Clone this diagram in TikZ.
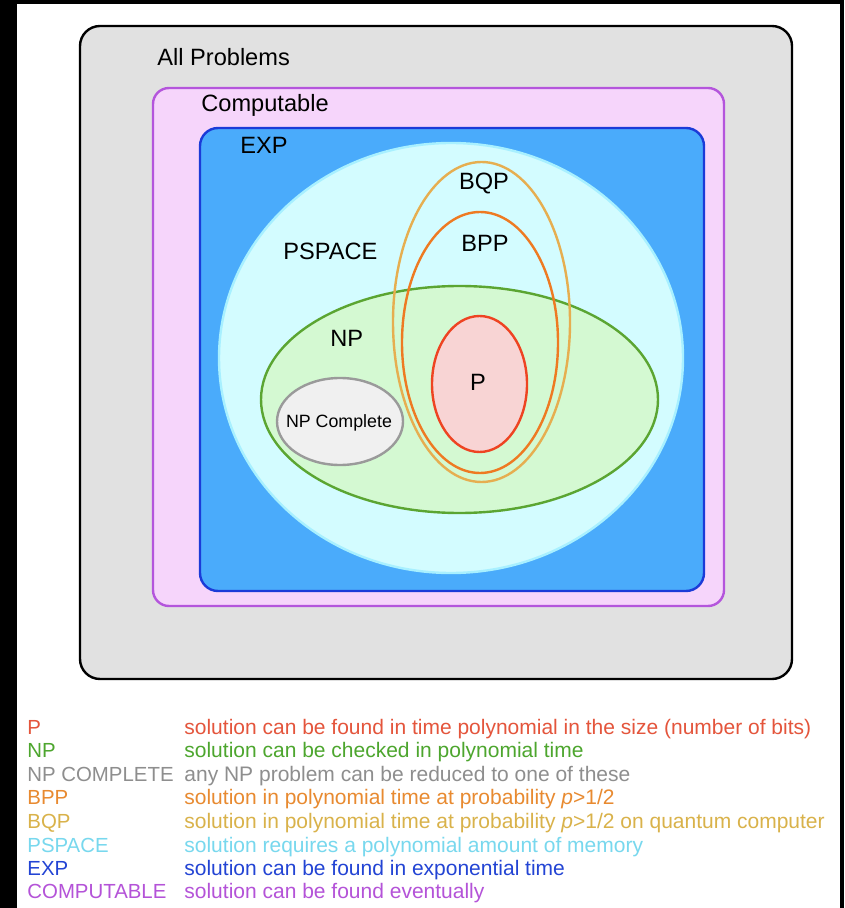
\documentclass[tikz,border=0pt]{standalone}
\usepackage{fontspec}
\setmainfont{Liberation Sans}
\usepackage{xcolor}
\definecolor{AllFill}{HTML}{E1E1E1}
\definecolor{CompFill}{HTML}{F6D5FB}
\definecolor{CompLine}{HTML}{B455DC}
\definecolor{ExpFill}{HTML}{4AABFB}
\definecolor{ExpLine}{HTML}{1B3BD8}
\definecolor{PspFill}{HTML}{D3FCFF}
\definecolor{PspLine}{HTML}{A8F0FF}
\definecolor{NpFill}{HTML}{D4F9D2}
\definecolor{NpLine}{HTML}{5BA532}
\definecolor{NpcFill}{HTML}{F0F0F0}
\definecolor{NpcLine}{HTML}{9A9A9A}
\definecolor{BqpLine}{HTML}{E6AE50}
\definecolor{BppLine}{HTML}{EE7A22}
\definecolor{PFill}{HTML}{F8D4D4}
\definecolor{PLine}{HTML}{EE4422}
% legend colours
\definecolor{KeyP}{HTML}{E4553C}
\definecolor{KeyNP}{HTML}{4DA62E}
\definecolor{KeyNPC}{HTML}{8E8E8E}
\definecolor{KeyBPP}{HTML}{E88A30}
\definecolor{KeyBQP}{HTML}{D9B24A}
\definecolor{KeyPSP}{HTML}{78D8EE}
\definecolor{KeyEXP}{HTML}{2344D4}
\definecolor{KeyComp}{HTML}{B453D8}
\usepackage{tikz}
\usetikzlibrary{shapes.geometric}

\begin{document}
\begin{tikzpicture}[
  x=0.5pt, y=-0.5pt,
  region/.style={rounded corners=10pt, line width=1.2pt},
  set/.style={ellipse, inner sep=0pt, line width=1.2pt},
  lbl/.style={anchor=base, inner sep=0pt, font=\fontsize{11.8}{14}\selectfont},
  key/.style={anchor=base west, inner sep=0pt, font=\fontsize{10.2}{12}\selectfont},
  desc/.style={key, font=\fontsize{10.5}{12}\selectfont},
]
% frame
\fill[black] (0,0) rectangle (844,908);
\fill[white] (17,4) rectangle (840,908);

% nested boxes
\draw[region, fill=AllFill, draw=black] (80,26) rectangle (792,679);
\draw[region, fill=CompFill, draw=CompLine, rounded corners=8pt] (153,88) rectangle (724,606);
\draw[region, fill=ExpFill, draw=ExpLine, rounded corners=9pt] (200,128) rectangle (704,591);

% the sets
\node[set, fill=PspFill, draw=PspLine, minimum width=232pt, minimum height=215pt] (pspace) at (451,358) {};
\node[set, fill=NpFill, draw=NpLine, minimum width=198.5pt, minimum height=113.5pt] (np) at (459.5,399.5) {};
\node[set, fill=NpcFill, draw=NpcLine, minimum width=63pt, minimum height=43.5pt] (npc) at (340,421.5) {};
\node[set, fill=PFill, draw=PLine, minimum width=47.5pt, minimum height=68pt] (p) at (479.5,384) {};
\node[set, draw=BppLine, minimum width=78pt, minimum height=130.5pt] (bpp) at (480,342.5) {};
\node[set, draw=BqpLine, minimum width=88.5pt, minimum height=160pt] (bqp) at (481.5,322) {};

% set labels
\node[lbl, anchor=base west] (allname) at (157,66) {All Problems};
\node[lbl, anchor=base west] (compname) at (201,112) {Computable};
\node[lbl, anchor=base west] (expname) at (240,154) {EXP};
\node[lbl, anchor=base west] (pspname) at (283,260) {PSPACE};
\node[lbl] (bqpname) at (484,190) {BQP};
\node[lbl] (bppname) at (485,252) {BPP};
\node[lbl, anchor=base west] (npname) at (330,347) {NP};
\node[lbl] (pname) at (478,390) {P};
\node[lbl, font=\fontsize{8.9}{10}\selectfont] (npcname) at (339,427) {NP Complete};

% legend
\node[key, text=KeyP] (keyp) at (27,734) {P};
\node[desc, text=KeyP] (descp) at (184,734) {solution can be found in time polynomial in the size (number of bits)};
\node[key, text=KeyNP] (keynp) at (27,757) {NP};
\node[desc, text=KeyNP] (descnp) at (184,757) {solution can be checked in polynomial time};
\node[key, text=KeyNPC] (keynpc) at (27,781) {NP COMPLETE};
\node[desc, text=KeyNPC] (descnpc) at (184,781) {any NP problem can be reduced to one of these};
\node[key, text=KeyBPP] (keybpp) at (27,804) {BPP};
\node[desc, text=KeyBPP] (descbpp) at (184,804) {solution in polynomial time at probability \textit{p}>1/2};
\node[key, text=KeyBQP] (keybqp) at (27,828) {BQP};
\node[desc, text=KeyBQP] (descbqp) at (184,828) {solution in polynomial time at probability \textit{p}>1/2 on quantum computer};
\node[key, text=KeyPSP] (keypsp) at (27,852) {PSPACE};
\node[desc, text=KeyPSP] (descpsp) at (184,852) {solution requires a polynomial amount of memory};
\node[key, text=KeyEXP] (keyexp) at (27,875) {EXP};
\node[desc, text=KeyEXP] (descexp) at (184,875) {solution can be found in exponential time};
\node[key, text=KeyComp] (keycomp) at (27,898) {COMPUTABLE};
\node[desc, text=KeyComp] (desccomp) at (184,898) {solution can be found eventually};
\end{tikzpicture}
\end{document}
